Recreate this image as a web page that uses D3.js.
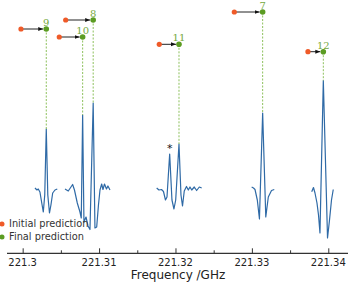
<!DOCTYPE html>
<html><head><meta charset="utf-8">
<script src="https://cdn.jsdelivr.net/npm/d3@7"></script>
<style>body{margin:0;background:#fff}svg{display:block}</style>
</head><body>
<script>
// Spectrum segments: [frequency GHz, intensity (arb.)]
const seg1 = [[221.30161,0],[221.30187,-2],[221.30204,-1],[221.30226,-4],[221.30250,-15],[221.30270,-24],[221.30289,-7],[221.30309,59],[221.30329,-7],[221.30351,-25],[221.30370,-17],[221.30393,-5],[221.30423,-2],[221.30453,-1]];
const seg2 = [[221.30554,-1],[221.30597,-3],[221.30641,2],[221.30654,3.5],[221.30678,-2],[221.30715,-15],[221.30750,-24],[221.30767,-30],[221.30785,73],[221.30802,-34],[221.30829,-29],[221.30855,-38],[221.30881,-41.5],[221.30923,85],[221.30946,-40],[221.30969,-39],[221.30992,-17],[221.31012,-2],[221.31034,4],[221.31051,-1.5],[221.31071,4],[221.31097,-1],[221.31116,2],[221.31143,-2]];
const seg3 = [[221.31754,0],[221.31784,-2],[221.31817,-1.5],[221.31843,-3.5],[221.31869,-12],[221.31889,-9],[221.31924,34],[221.31954,-12],[221.31980,-21],[221.32003,-12],[221.32046,44],[221.32072,-7],[221.32092,-18],[221.32115,-3],[221.32144,1.5],[221.32168,-2],[221.32190,1],[221.32213,-2],[221.32246,1],[221.32277,-2.5],[221.32312,1],[221.32343,0]];
const seg4 = [[221.32997,1],[221.33021,0],[221.33041,-1.5],[221.33071,-12],[221.33099,-31],[221.33141,75],[221.33182,-29],[221.33215,-9],[221.33257,-2.5],[221.33293,-1.5]];
const seg5 = [[221.33783,-3.7],[221.33806,0.5],[221.33826,-5],[221.33852,-15],[221.33872,-27],[221.33891,-45],[221.33935,107.5],[221.33990,-50],[221.34016,-32],[221.34042,-12],[221.34065,-1.5]];
const segments = [seg1, seg2, seg3, seg4, seg5];

// Line assignments
const lineLabels = ["9","8","10","11","7","12"];
const initialFreq = [221.29978,221.30563,221.30479,221.31788,221.32770,221.33734];
const finalFreq   = [221.30309,221.30923,221.30785,221.32046,221.33141,221.33935];
const markerLevel = [159,168,151,143.7,176,136.3];
const peakTop     = [59,85,73,44,75,107.5];

// Unassigned feature marker
const starFreq = 221.31924, starLevel = 40;

const tickValues = [221.3,221.31,221.32,221.33,221.34];
const tickLabels = ["221.3","221.31","221.32","221.33","221.34"];
const minorTicks = [221.305,221.315,221.325,221.335];

const W = 349, H = 282;
const svg = d3.select("body").append("svg").attr("width",W).attr("height",H);
const x = d3.scaleLinear().domain([221.29795,221.34258]).range([7,348]);
const y = d3.scaleLinear().domain([0,100]).range([188,88]);

const blue = "#2f6aa6", orange = "#ef5a28", green = "#5b9c22", lgreen = "#8dc05c", tgreen = "#74a83c";

// Spectrum
const line = d3.line().x(d=>x(d[0])).y(d=>y(d[1]));
svg.selectAll("path.spec").data(segments).enter().append("path")
  .attr("class","spec").attr("d",line).attr("fill","none")
  .attr("stroke",blue).attr("stroke-width",1.2).attr("stroke-linejoin","round");

// Dashed guides
lineLabels.forEach((lab,i)=>{
  svg.append("line").attr("x1",x(finalFreq[i])).attr("x2",x(finalFreq[i]))
    .attr("y1",y(markerLevel[i])).attr("y2",y(peakTop[i]))
    .attr("stroke",lgreen).attr("stroke-width",1).attr("stroke-dasharray","2,1.5");
});

// Arrow marker
svg.append("defs").append("marker").attr("id","ah").attr("viewBox","0 0 10 10")
  .attr("refX",10).attr("refY",5).attr("markerWidth",5).attr("markerHeight",5)
  .attr("orient","auto").append("path").attr("d","M0,1L10,5L0,9Z").attr("fill","#111");

lineLabels.forEach((lab,i)=>{
  const x0 = x(initialFreq[i]), x1 = x(finalFreq[i]), yy = y(markerLevel[i]);
  svg.append("line").attr("x1",x0).attr("x2",x1-3).attr("y1",yy).attr("y2",yy)
    .attr("stroke","#222").attr("stroke-width",1).attr("marker-end","url(#ah)");
  svg.append("circle").attr("cx",x0).attr("cy",yy).attr("r",2.6).attr("fill",orange);
  svg.append("circle").attr("cx",x1).attr("cy",yy).attr("r",2.8).attr("fill",green);
  svg.append("text").attr("x",x1).attr("y",yy-3).attr("text-anchor","middle")
    .attr("font-family","DejaVu Serif").attr("font-size",10).attr("fill",tgreen).text(lab);
});

svg.append("text").attr("x",x(starFreq)).attr("y",y(starLevel)+4).attr("text-anchor","middle")
  .attr("font-family","DejaVu Sans").attr("font-size",11).attr("fill","#111").text("*");

// Legend
const legend = [["Initial prediction",orange],["Final prediction",green]];
legend.forEach((d,i)=>{
  const ly = 224 + i*13;
  svg.append("circle").attr("cx",2).attr("cy",ly).attr("r",2.5).attr("fill",d[1]);
  svg.append("text").attr("x",9).attr("y",ly+3.4).attr("font-family","DejaVu Sans")
    .attr("font-size",9.8).attr("fill","#333").text(d[0]);
});

// Axis
const ay = 253.3;
const axis = d3.axisTop(x).tickValues(tickValues).tickSize(5).tickFormat((d,i)=>"");
const g = svg.append("g").attr("transform",`translate(0,${ay})`).call(axis);
g.select(".domain").attr("d",`M7,0H348`).attr("stroke","#333").attr("stroke-width",1.2);
g.selectAll(".tick line").attr("stroke","#333").attr("stroke-width",1);
const gm = svg.append("g").attr("transform",`translate(0,${ay})`)
  .call(d3.axisTop(x).tickValues(minorTicks).tickSize(3).tickFormat(""));
gm.select(".domain").remove();
gm.selectAll(".tick line").attr("stroke","#333").attr("stroke-width",1);
svg.selectAll("text.tl").data(tickValues).enter().append("text").attr("class","tl")
  .attr("x",d=>x(d)).attr("y",ay+12.5).attr("text-anchor","middle")
  .attr("font-family","DejaVu Sans").attr("font-size",10).attr("fill","#222")
  .text((d,i)=>tickLabels[i]);
svg.append("text").attr("x",178).attr("y",278.5).attr("text-anchor","middle")
  .attr("font-family","DejaVu Sans").attr("font-size",12).attr("fill","#222").text("Frequency /GHz");
</script>
</body></html>
